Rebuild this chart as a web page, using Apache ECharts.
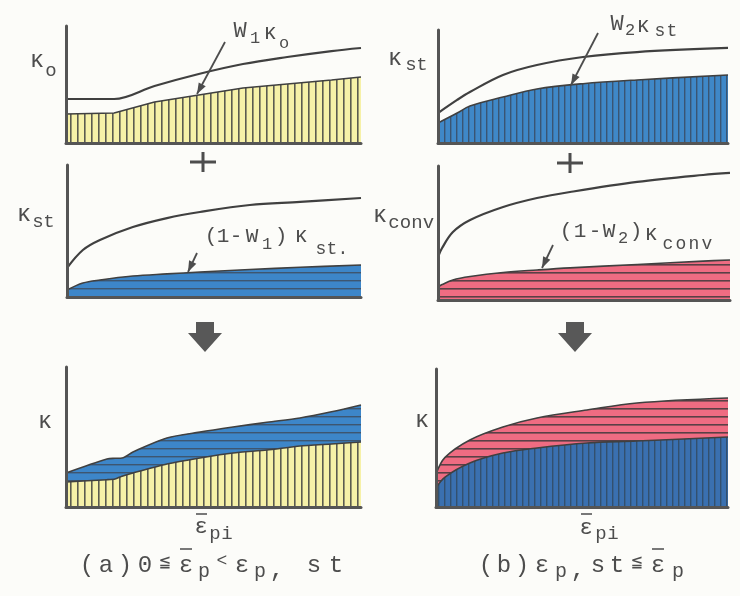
<!DOCTYPE html>
<html><head><meta charset="utf-8">
<script src="https://cdn.jsdelivr.net/npm/echarts@6/dist/echarts.min.js"></script>
<style>html,body{margin:0;padding:0;background:#fcfcf9}#c{width:740px;height:596px}</style>
</head><body><div id="c"></div>
<script>
// ---- data (x: 0..100 along the strain axis, y: 0..100 of axis height) ----
const xs1 = [0, 16.3, 30, 45, 60, 75, 90, 100];
const kappa0 = [37.6, 37.6, 48.7, 59, 67.5, 73.5, 78.6, 81.2];
const w1Kappa0 = [24.8, 25.6, 35, 41, 47, 50.4, 53.8, 56.4];

const xs2 = [0, 6.6, 11, 22.4, 34.1, 50, 68.6, 100];
const kappaSt2 = [26.5, 38.1, 45.1, 60.2, 69, 76.1, 80.5, 84.1];
const w2KappaSt = [17.7, 26.5, 32.7, 40.7, 47.8, 52.5, 55.8, 60.2];

const xs3 = [0, 5.4, 11.2, 22.4, 34, 45.2, 62.2, 79.3, 100];
const kappaSt3 = [22, 35.6, 43.2, 53, 59.8, 64.4, 69.7, 72, 75];
const oneMinusW1KappaSt = [5.3, 10.6, 12.9, 15.9, 17.5, 18.9, 20.8, 22.5, 24.2];

const xs4 = [0, 1.4, 5.1, 11, 22.3, 33.9, 45.2, 68.2, 90.8, 100];
const kappaConv = [32.1, 38.8, 50.7, 59.7, 69.4, 76.1, 80.6, 88.1, 93.3, 94.8];
const oneMinusW2KappaConv = [9.7, 11.5, 15, 17.5, 20.5, 22.4, 24, 26.5, 29, 29.9];

const xs5 = [0, 13.9, 16.6, 19, 22.7, 34.2, 45.4, 56.6, 68.1, 79.3, 90, 100];
const kappaA = [24.3, 34.3, 34.8, 35, 39.3, 49.3, 53.5, 57.1, 60.5, 63.6, 68, 72.9];
const w1Kappa0A = [17.9, 19.5, 20, 22, 24.3, 30.7, 35, 38.6, 40.7, 43.6, 45, 46.4];

const xs6 = [0, 3.1, 11.6, 22.9, 34.6, 51.7, 68.8, 100];
const kappaB = [23.9, 36, 48.6, 58, 64.5, 70.3, 75.4, 79];
const w2KappaStB = [13.8, 21.7, 31.9, 39.1, 42.8, 46.4, 47.8, 50.7];

// ---- layout ----
const grids = [
  {left: 66, top: 26, width: 295, height: 117},
  {left: 438, top: 30, width: 290, height: 113},
  {left: 67, top: 165, width: 294, height: 132},
  {left: 438, top: 166, width: 292, height: 134},
  {left: 66, top: 367, width: 295, height: 140},
  {left: 436, top: 369, width: 292, height: 138}
];
const INK = '#4d4d4d', AX = '#555', CURVE = '#404040';
const FONT = '"Liberation Mono", "DejaVu Sans Mono", monospace';

function pat(bg, line, vertical, step, lw) {
  const c = document.createElement('canvas');
  c.width = vertical ? step : 8; c.height = vertical ? 8 : step;
  const ctx = c.getContext('2d');
  ctx.fillStyle = bg; ctx.fillRect(0, 0, c.width, c.height);
  ctx.fillStyle = line;
  if (vertical) ctx.fillRect(0, 0, lw, c.height); else ctx.fillRect(0, 0, c.width, lw);
  return {image: c, repeat: 'repeat'};
}
const yellowV = pat('#f6f1a8', '#5b5b50', true, 7, 1.6);
const blueV = pat('#3f88c8', '#3a5573', true, 6, 1.4);
const blueV2 = pat('#3a70b0', '#33506e', true, 6, 1.4);
const blueH = pat('#3d86c9', '#3e5670', false, 8, 1.4);
const redH = pat('#ef6c82', '#5a4046', false, 8, 1.6);

function pairs(xs, ys) { return xs.map((x, i) => [x, ys[i]]); }
function curve(g, xs, ys) {
  return {type: 'line', xAxisIndex: g, yAxisIndex: g, data: pairs(xs, ys), smooth: 0.35,
    symbol: 'none', lineStyle: {color: CURVE, width: 2.2}, z: 5, silent: true};
}
function area(g, xs, ys, fill, smooth, z) {
  return {type: 'line', xAxisIndex: g, yAxisIndex: g, data: pairs(xs, ys), smooth: smooth,
    symbol: 'none', lineStyle: {color: CURVE, width: 1.6}, areaStyle: {color: fill, opacity: 1}, z: z || 3, silent: true};
}

const xAxis = grids.map((g, i) => ({type: 'value', gridIndex: i, min: 0, max: 100, z: 10,
  axisLine: {show: true, onZero: false, lineStyle: {color: AX, width: 3}},
  axisTick: {show: false}, axisLabel: {show: false}, splitLine: {show: false}}));
const yAxis = grids.map((g, i) => ({type: 'value', gridIndex: i, min: 0, max: 100, z: 10,
  axisLine: {show: true, onZero: false, lineStyle: {color: AX, width: 3}},
  axisTick: {show: false}, axisLabel: {show: false}, splitLine: {show: false}}));

const series = [
  curve(0, xs1, kappa0), area(0, xs1, w1Kappa0, yellowV, false),
  curve(1, xs2, kappaSt2), area(1, xs2, w2KappaSt, blueV, 0.35),
  curve(2, xs3, kappaSt3), area(2, xs3, oneMinusW1KappaSt, blueH, 0.35),
  curve(3, xs4, kappaConv), area(3, xs4, oneMinusW2KappaConv, redH, 0.35),
  area(4, xs5, kappaA, blueH, 0.3, 2), area(4, xs5, w1Kappa0A, yellowV, 0.2, 3),
  area(5, xs6, kappaB, redH, 0.35, 2), area(5, xs6, w2KappaStB, blueV2, 0.35, 3)
];

// ---- annotations ----
const G = [];
function ch(c, x, y, size) {
  G.push({type: 'text', x: x, y: y, z: 100, silent: true,
    style: {text: c, fontSize: size, fontFamily: FONT, fill: INK, align: 'center', verticalAlign: 'middle'}});
}
function run(str, x, y, step, size) { Array.from(str).forEach((c, i) => ch(c, x + i * step, y, size)); }
function seg(x1, y1, x2, y2, w) {
  G.push({type: 'line', z: 100, silent: true, shape: {x1, y1, x2, y2}, style: {stroke: INK, lineWidth: w || 1.5}});
}
function arrow(x1, y1, x2, y2) {
  seg(x1, y1, x2, y2, 1.8);
  const a = Math.atan2(y2 - y1, x2 - x1), L = 11, W = 4;
  const bx = x2 - L * Math.cos(a), by = y2 - L * Math.sin(a);
  G.push({type: 'polygon', z: 101, silent: true, shape: {points: [[x2, y2],
    [bx + W * Math.sin(a), by - W * Math.cos(a)], [bx - W * Math.sin(a), by + W * Math.cos(a)]]},
    style: {fill: INK}});
}
function plus(cx, cy) { seg(cx - 13, cy, cx + 13, cy, 3); seg(cx, cy - 10, cx, cy + 10, 3); }
function blockArrow(cx, top) {
  G.push({type: 'polygon', z: 100, silent: true, style: {fill: '#585858'}, shape: {points: [
    [cx - 9, top], [cx + 9, top], [cx + 9, top + 11], [cx + 17, top + 11], [cx, top + 30],
    [cx - 17, top + 11], [cx - 9, top + 11]]}});
}
// caption: list of [char, x, dy, size]
function caption(items, y) {
  items.forEach(it => ch(it[0], it[1], y + (it[2] || 0), it[3] || 24));
}

// panel 1
ch('κ', 37, 61, 24); ch('o', 51, 71, 19);
ch('W', 240, 31, 22); ch('1', 255, 38, 17); ch('κ', 270, 33, 22); ch('o', 284, 43, 17);
arrow(225, 42, 197, 94);
// panel 2
ch('κ', 395, 59, 24); run('st', 411, 65, 11, 19);
ch('W', 617, 24, 22); ch('2', 630, 30, 17); ch('κ', 643, 26, 22); run('st', 660, 31, 12, 18);
arrow(598, 33, 571, 85);
plus(203, 162); plus(570, 163);
// panel 3
ch('κ', 24, 215, 24); run('st', 38, 222, 11, 19);
ch('(', 211, 236, 21); ch('1', 223, 236, 21); ch('-', 236, 236, 21); ch('W', 252, 236, 21);
ch('1', 267, 244, 17); ch(')', 281, 236, 21); ch('κ', 301, 236, 22); run('st.', 321, 249, 11, 18);
arrow(197, 253, 188, 272);
// panel 4
ch('κ', 380, 216, 24); run('conv', 394, 223, 11.5, 19);
ch('(', 566, 231, 21); ch('1', 580, 231, 21); ch('-', 595, 231, 21); ch('W', 609, 231, 21);
ch('2', 623, 238, 17); ch(')', 636, 231, 21); ch('κ', 651, 234, 22); run('conv', 668, 244, 13, 18);
arrow(553, 245, 542, 268);
// arrows down
blockArrow(205, 322); blockArrow(575, 322);
// panel 5
ch('κ', 45, 422, 24);
ch('ε', 201, 527, 22); seg(196, 514, 207, 514, 1.5); run('pi', 215, 534, 12, 19);
caption([['(', 87], ['a', 106], [')', 125], ['0', 145], ['≦', 165, -4, 18], ['ε', 186], ['p', 204, 6, 20],
  ['<', 222, -5, 18], ['ε', 242], ['p', 260, 6, 20], [',', 277, 5], ['s', 314], ['t', 336]], 566);
seg(180, 549, 192, 549, 1.5);
// panel 6
ch('κ', 422, 421, 24);
ch('ε', 586, 528, 22); seg(581, 514, 592, 514, 1.5); run('pi', 601, 534, 12, 19);
caption([['(', 486], ['b', 504], [')', 522], ['ε', 542], ['p', 561, 6, 20], [',', 578, 5], ['s', 598], ['t', 617],
  ['≦', 637, -4, 18], ['ε', 658], ['p', 678, 6, 20]], 566);
seg(652, 549, 664, 549, 1.5);

const chart = echarts.init(document.getElementById('c'), null, {renderer: 'canvas'});
chart.setOption({
  backgroundColor: '#fcfcf9',
  animation: false,
  grid: grids,
  xAxis: xAxis,
  yAxis: yAxis,
  series: series,
  graphic: G
});
</script></body></html>
